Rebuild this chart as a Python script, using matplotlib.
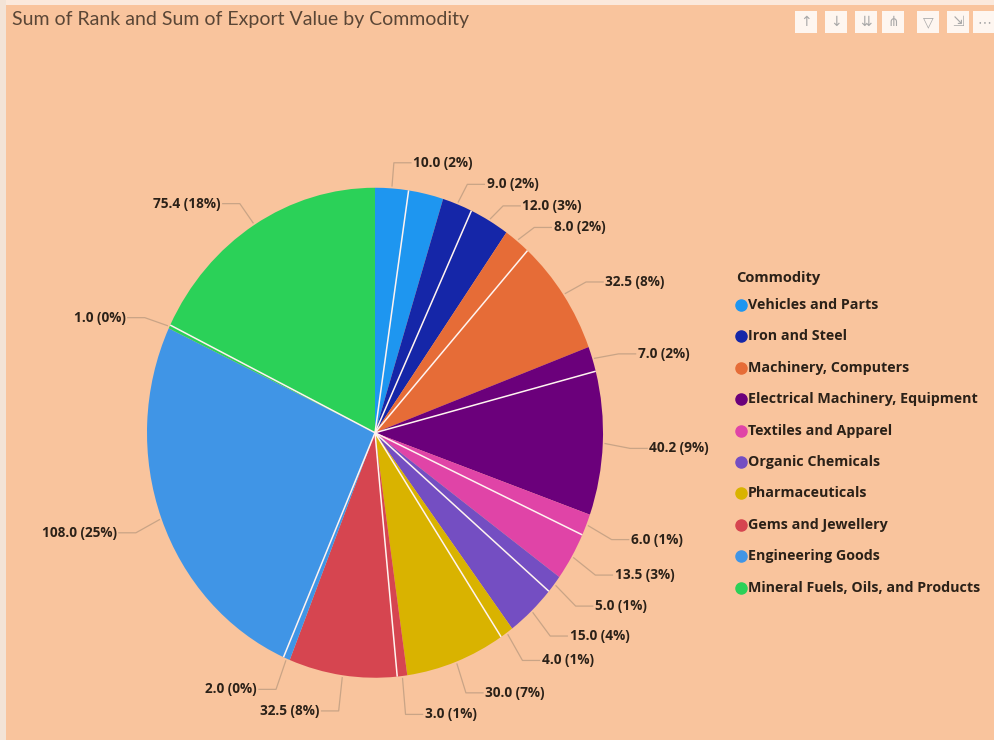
import matplotlib
matplotlib.use("Agg")
import matplotlib.pyplot as plt
import numpy as np
from matplotlib.lines import Line2D
from matplotlib.patches import Rectangle, FancyBboxPatch

# ---------------- data ----------------
commodities = ["Vehicles and Parts", "Iron and Steel", "Machinery, Computers",
               "Electrical Machinery, Equipment", "Textiles and Apparel",
               "Organic Chemicals", "Pharmaceuticals", "Gems and Jewellery",
               "Engineering Goods", "Mineral Fuels, Oils, and Products"]
rank_values = [10.0, 9.0, 8.0, 7.0, 6.0, 5.0, 4.0, 3.0, 2.0, 1.0]
export_values = [10.5, 12.0, 32.5, 40.2, 13.5, 15.0, 30.0, 32.5, 108.0, 75.4]
colors = ["#1E96F0", "#1526A8", "#E66C37", "#6B007B", "#E044A7",
          "#744EC2", "#D9B300", "#D64550", "#4095E6", "#2BD158"]
hidden_labels = [1]  # slice index whose data label is hidden (overlap)
title = "Sum of Rank and Sum of Export Value by Commodity"
legend_title = "Commodity"

BG = "#F9C49D"
W, H = 995, 740

# interleave rank / export value for each commodity
values, slice_colors = [], []
for r, e, c in zip(rank_values, export_values, colors):
    values += [r, e]
    slice_colors += [c, c]
values = np.array(values)
total = values.sum()

fig = plt.figure(figsize=(W / 100, H / 100), dpi=100, facecolor=BG)

# pie axes (slightly taller than wide as in reference)
ax = fig.add_axes([33 / W, 1 / H, 684 / W, 612.5 / H])
ax.set_facecolor(BG)
wedges, _ = ax.pie(values, colors=slice_colors, startangle=90, counterclock=False,
                   wedgeprops=dict(linewidth=0))
ax.set_aspect("auto")
ax.set_xlim(-1.5, 1.5)
ax.set_ylim(-1.25, 1.25)
ax.axis("off")

# white separators between the two slices of the same commodity
cum = np.cumsum(values)
for k in range(0, len(values), 2):
    ang = np.deg2rad(90 - cum[k] / total * 360)
    ax.plot([0, np.cos(ang)], [0, np.sin(ang)], color="#FFF3F0", lw=1.1,
            solid_capstyle="butt", zorder=3)

# ---------------- data labels ----------------
mids = cum - values / 2
angs = np.deg2rad(90 - mids / total * 360)
r_elbow = 1.12
gap = 0.088
yshift = -0.015
right, left = [], []
for i, a in enumerate(angs):
    if i in hidden_labels:
        continue
    x0, y0 = np.cos(a), np.sin(a)
    ex, ey = r_elbow * x0, r_elbow * y0 + yshift
    (right if x0 >= 0 else left).append([i, x0, y0, ex, ey])

# resolve overlaps top->bottom on each side
for items in (right, left):
    items.sort(key=lambda t: -t[4])
    for j in range(1, len(items)):
        if items[j][4] > items[j - 1][4] - gap:
            items[j][4] = items[j - 1][4] - gap

lead_col = "#C9A486"
for side, items in (("r", right), ("l", left)):
    for i, x0, y0, ex, ey in items:
        sx, sy = 1.01 * x0, 1.01 * y0
        ex2 = r_elbow * x0
        s = 1 if side == "r" else -1
        tx = ex2 + s * 0.085
        ax.plot([sx, ex2, tx - s * 0.01], [sy, ey, ey], color=lead_col, lw=0.9,
                zorder=2, clip_on=False)
        v = values[i]
        ax.text(tx, ey, f"{v:.1f} ({v / total * 100:.0f}%)",
                ha="left" if side == "r" else "right", va="center",
                fontsize=9.8, fontweight="bold", color="#2B2118",
                family="Open Sans", clip_on=False)

# ---------------- title ----------------
fig.text(12 / W, 1 - 20 / H, title, ha="left", va="center", fontsize=14,
         color="#5A4636", family="Lato")

# ---------------- legend ----------------
fig.text(736 / W, 1 - 278 / H, legend_title, ha="left", va="center",
         fontsize=10.5, fontweight="bold", color="#2B2118", family="Open Sans")
for i, (name, c) in enumerate(zip(commodities, colors)):
    yy = 1 - (305 + i * 31.4) / H
    fig.add_artist(Line2D([741 / W], [yy], marker="o", markersize=8,
                          color=c, linestyle="none", transform=fig.transFigure))
    fig.text(748 / W, yy, name, ha="left", va="center", fontsize=10.3,
             fontweight="bold", color="#2B2118", family="Open Sans")

# ---------------- visual header icons ----------------
icons = ["\u2191", "\u2193", "\u21ca", "\u22d4", "\u25bd", "\u21f2", "\u22ef"]
icon_x = [806, 836, 866, 893, 928, 958, 984]
for gx, g in zip(icon_x, icons):
    fig.add_artist(FancyBboxPatch(((gx - 11) / W, 1 - 33 / H), 22 / W, 22 / H,
                                  boxstyle="square,pad=0", transform=fig.transFigure,
                                  facecolor="#FFFFFF", edgecolor="none", alpha=0.85))
    fig.text(gx / W, 1 - 22 / H, g, ha="center", va="center", fontsize=10,
             color="#A9A9A9", family=["DejaVu Sans", "Noto Sans"])

# thin white borders like the screenshot
fig.add_artist(Rectangle((0, 1 - 5 / H), 1, 5 / H, transform=fig.transFigure,
                         facecolor="#FBE9DC", edgecolor="none"))
fig.add_artist(Rectangle((0, 0), 6 / W, 1, transform=fig.transFigure,
                         facecolor="#F3E3D6", edgecolor="none"))

fig.savefig("out.png", dpi=100, facecolor=BG)
